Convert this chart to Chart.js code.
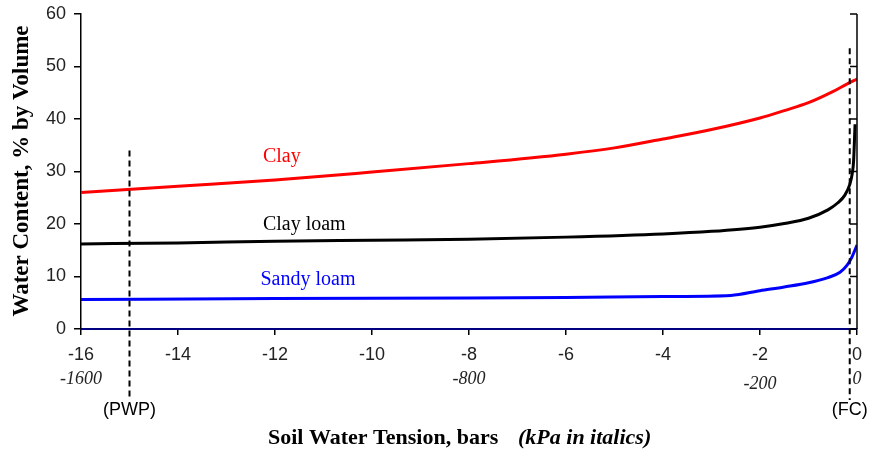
<!DOCTYPE html>
<html>
<head>
<meta charset="utf-8">
<script src="https://cdn.jsdelivr.net/npm/chart.js@4.4.0/dist/chart.umd.min.js"></script>
<style>
  html, body { margin: 0; padding: 0; background: #fff; }
  #wrap { width: 870px; height: 450px; }
</style>
</head>
<body>
<div id="wrap"><canvas id="grafico" width="870" height="450"></canvas></div>
<script>
// soil water tension, bars
const clayX = [-16, -14, -12, -10, -8, -6, -5, -4, -3, -2, -1.5, -1, -0.5, -0.2, 0];
const clayY = [26.0, 27.2, 28.4, 29.9, 31.5, 33.3, 34.5, 36.2, 38.0, 40.2, 41.6, 43.1, 45.2, 46.7, 47.6];

const clayLoamX = [-16, -14, -12, -10, -8, -6, -4, -3, -2, -1.5, -1, -0.6, -0.4, -0.25, -0.15, -0.1, -0.07, -0.04];
const clayLoamY = [16.2, 16.4, 16.7, 16.9, 17.1, 17.5, 18.1, 18.6, 19.4, 20.1, 21.1, 22.7, 24.0, 25.5, 27.5, 29.5, 32.0, 39.0];

const sandyLoamX = [-16, -12, -8, -6, -4, -2.6, -2, -1.5, -1, -0.6, -0.35, -0.2, -0.1, 0];
const sandyLoamY = [5.6, 5.8, 5.9, 6.0, 6.2, 6.4, 7.3, 8.0, 8.8, 9.8, 10.8, 12.2, 13.8, 16.0];

const xTicks = [-16, -14, -12, -10, -8, -6, -4, -2, 0];
const kpaValues = [-16, -8, -2, 0];
const kpaLabels = ['-1600', '-800', '-200', '0'];
const curveLabels = ['Clay', 'Clay loam', 'Sandy loam'];
const curveLabelAt = [[-12.25, 32.8], [-12.25, 19.8], [-12.3, 9.3]];
const pwpX = -15;
const fcX = -0.15;

const colors = ['#ff0000', '#000000', '#0000ff'];

function pts(xs, ys) { return xs.map((x, i) => ({ x: x, y: ys[i] })); }

const extras = {
  id: 'extras',
  afterDraw(chart) {
    const c = chart.ctx, xs = chart.scales.x, ys = chart.scales.y, a = chart.chartArea;
    c.save();
    // right axis line with inward ticks
    c.strokeStyle = '#000'; c.lineWidth = 1.5;
    c.beginPath(); c.moveTo(a.right, a.top); c.lineTo(a.right, a.bottom); c.stroke();
    for (let v = 0; v <= 60; v += 10) {
      const y = ys.getPixelForValue(v);
      c.beginPath(); c.moveTo(a.right - 7, y); c.lineTo(a.right, y); c.stroke();
    }
    // dashed PWP / FC lines
    c.setLineDash([6, 4]); c.lineWidth = 2;
    let px = xs.getPixelForValue(pwpX);
    c.beginPath(); c.moveTo(px, ys.getPixelForValue(34)); c.lineTo(px, 400); c.stroke();
    let fx = xs.getPixelForValue(fcX);
    c.beginPath(); c.moveTo(fx, ys.getPixelForValue(53.5)); c.lineTo(fx, 400); c.stroke();
    c.setLineDash([]);
    c.fillStyle = '#000'; c.font = '18px "Liberation Sans", Arial'; c.textAlign = 'center'; c.textBaseline = 'middle';
    c.fillText('(PWP)', px, 410);
    c.fillText('(FC)', fx, 410);
    // kPa labels
    c.font = 'italic 18px "Liberation Serif", "Times New Roman"';
    c.fillStyle = '#222';
    kpaValues.forEach((v, i) => {
      const yy = kpaLabels[i] === '-200' ? 384 : 379;
      c.fillText(kpaLabels[i], xs.getPixelForValue(v), yy);
    });
    // curve labels
    c.font = '20px "Liberation Serif", "Times New Roman"';
    c.textAlign = 'left';
    curveLabels.forEach((t, i) => {
      c.fillStyle = colors[i];
      c.fillText(t, xs.getPixelForValue(curveLabelAt[i][0]), ys.getPixelForValue(curveLabelAt[i][1]));
    });
    // axis titles
    c.fillStyle = '#000';
    c.font = 'bold 23px "Liberation Serif", "Times New Roman"';
    c.save();
    c.translate(22, 171); c.rotate(-Math.PI / 2); c.textAlign = 'center';
    c.fillText('Water Content, % by Volume', 0, 0);
    c.restore();
    c.font = 'bold 22px "Liberation Serif", "Times New Roman"';
    c.textAlign = 'left';
    c.fillText('Soil Water Tension, bars', 268, 438);
    c.font = 'bold italic 22px "Liberation Serif", "Times New Roman"';
    c.fillText('(kPa in italics)', 518, 438);
    c.restore();
  }
};

const ctx = document.getElementById('grafico').getContext('2d');
const chart = new Chart(ctx, {
  type: 'line',
  data: {
    datasets: [
      { label: 'Clay', data: pts(clayX, clayY), borderColor: colors[0] },
      { label: 'Clay loam', data: pts(clayLoamX, clayLoamY), borderColor: colors[1] },
      { label: 'Sandy loam', data: pts(sandyLoamX, sandyLoamY), borderColor: colors[2] }
    ]
  },
  options: {
    responsive: false,
    animation: false,
    devicePixelRatio: 1,
    elements: {
      point: { radius: 0 },
      line: { borderWidth: 3, cubicInterpolationMode: 'monotone', fill: false }
    },
    layout: { padding: { left: 0, right: 13, top: 14, bottom: 0 } },
    plugins: { legend: { display: false }, tooltip: { enabled: false } },
    scales: {
      x: {
        type: 'linear', min: -16, max: 0,
        afterBuildTicks: s => { s.ticks = xTicks.map(v => ({ value: v })); },
        afterFit: s => { s.height = 121; s.paddingLeft = 0; s.paddingRight = 0; },
        grid: { drawOnChartArea: false, tickLength: 6, color: '#000', lineWidth: 1.5 },
        border: { color: '#000080', width: 2 },
        ticks: { color: '#222', font: { family: '"Liberation Sans", Arial', size: 18 }, padding: 9, maxRotation: 0 }
      },
      y: {
        min: 0, max: 60,
        afterFit: s => { s.width = 81; s.paddingTop = 0; s.paddingBottom = 0; },
        grid: { drawOnChartArea: false, tickLength: 7, color: '#000', lineWidth: 1.5 },
        border: { color: '#000', width: 1.5 },
        ticks: { stepSize: 10, color: '#222', font: { family: '"Liberation Sans", Arial', size: 18 }, padding: 8 }
      }
    }
  },
  plugins: [extras]
});
</script>
</body>
</html>
